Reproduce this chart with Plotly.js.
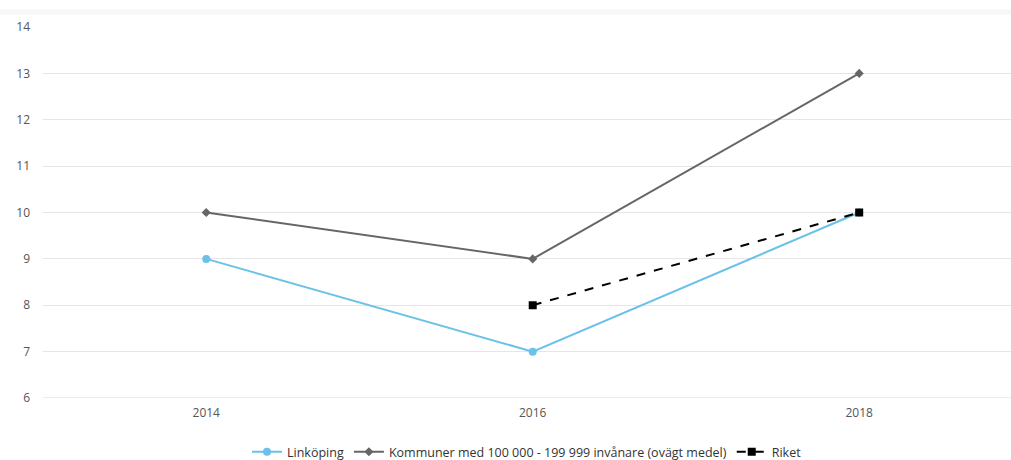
<!DOCTYPE html>
<html><head><meta charset="utf-8">
<script src="https://cdn.plot.ly/plotly-3.0.1.min.js"></script>
<style>html,body{margin:0;padding:0;background:#fff}#chart{width:1011px;height:460px}</style>
</head><body><div id="chart"></div>
<script>
var years = ['2014', '2016', '2018'];
var linkoping = [9, 7, 10];
var kommuner = [10, 9, 13];
var riket = [null, 8, 10];
var yTicks = [6, 7, 8, 9, 10, 11, 12, 13, 14];

var font = 'Open Sans, DejaVu Sans, sans-serif';
var traces = [
  {x: years, y: linkoping, name: 'Linköping', type: 'scatter', mode: 'lines+markers',
   line: {color: '#6cc1e8', width: 2}, marker: {symbol: 'circle', size: 8, color: '#6cc1e8'}},
  {x: years, y: kommuner, name: 'Kommuner med 100 000 - 199 999 invånare (ovägt medel)', type: 'scatter', mode: 'lines+markers',
   line: {color: '#666666', width: 2}, marker: {symbol: 'diamond', size: 7, color: '#666666'}},
  {x: years, y: riket, name: 'Riket', type: 'scatter', mode: 'lines+markers',
   line: {color: '#000000', width: 2, dash: 'dash'}, marker: {symbol: 'square', size: 8, color: '#000000'}}
];
var layout = {
  width: 1011, height: 460,
  margin: {l: 43, r: 0, t: 27, b: 62, autoexpand: false},
  paper_bgcolor: '#fff', plot_bgcolor: '#fff',
  font: {family: font, size: 12, color: '#555'},
  showlegend: true,
  legend: {orientation: 'h', x: 0.5, xanchor: 'center', y: -0.146, yanchor: 'middle',
           font: {family: font, size: 12.5, color: '#333'}, traceorder: 'normal', itemwidth: 30},
  xaxis: {type: 'category', range: [-0.5, 2.465], showgrid: false, zeroline: false,
          showline: false, ticks: '', ticklabelstandoff: 6, tickfont: {size: 12, color: '#555'}},
  yaxis: {range: [6, 14], tickvals: yTicks, showgrid: true, gridcolor: '#e6e6e6',
          zeroline: false, showline: false, ticks: '', ticklabelstandoff: 12,
          tickfont: {size: 12, color: '#555'}},
  shapes: [
    {type: 'line', xref: 'paper', yref: 'y', x0: 0, x1: 1, y0: 6, y1: 6, line: {color: '#ccd6eb', width: 1}},
    {type: 'rect', xref: 'paper', yref: 'paper', x0: -0.045, x1: 1, y0: 1.033, y1: 1.047, fillcolor: '#f7f7f7', line: {width: 0}, layer: 'below'}
  ]
};
Plotly.newPlot('chart', traces, layout, {displayModeBar: false});
</script></body></html>
